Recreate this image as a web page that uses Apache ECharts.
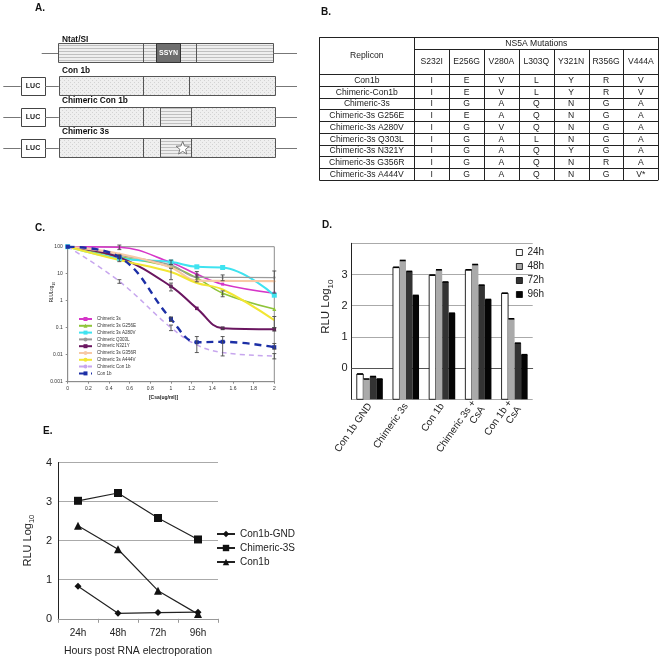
<!DOCTYPE html>
<html><head><meta charset="utf-8">
<script src="https://cdn.jsdelivr.net/npm/echarts@6/dist/echarts.min.js"></script>
<style>html,body{margin:0;padding:0;background:#fff}#chart{width:662px;height:659px}</style>
</head><body><div id="chart"></div>
<script>
// ---------------- Panel B: table data ----------------
const mutationHeaders = ['S232I','E256G','V280A','L303Q','Y321N','R356G','V444A'];
const replicons = ['Con1b','Chimeric-Con1b','Chimeric-3s','Chimeric-3s G256E','Chimeric-3s A280V','Chimeric-3s Q303L','Chimeric-3s N321Y','Chimeric-3s G356R','Chimeric-3s A444V'];
const residues = [
  ['I','E','V','L','Y','R','V'],
  ['I','E','V','L','Y','R','V'],
  ['I','G','A','Q','N','G','A'],
  ['I','E','A','Q','N','G','A'],
  ['I','G','V','Q','N','G','A'],
  ['I','G','A','L','N','G','A'],
  ['I','G','A','Q','Y','G','A'],
  ['I','G','A','Q','N','R','A'],
  ['I','G','A','Q','N','G','V*']
];
// ---------------- Panel C: CsA dose response ----------------
const csaDose = [0, 0.5, 1, 1.25, 1.5, 2];
const chimeric3s      = [100, 95, 26, 9.5, 4.1, 1.9];
const chimeric3sG256E = [100, 42, 18, 7, 1.9, 0.49];
const chimeric3sA280V = [100, 37, 27, 18, 17, 1.6];
const chimericQ303L   = [100, 48, 21, 7.4, 7.3, 7.2];
const chimericN321Y   = [100, 40, 3.4, 0.52, 0.095, 0.087];
const chimeric3sG356R = [100, 55, 17, 5.5, 5.4, 5.3];
const chimeric3sA444V = [100, 32, 11.5, 4.5, 2.6, 0.19];
const chimericCon1b   = [100, 5.2, 0.1, 0.023, 0.012, 0.0089];
const con1bCsA        = [100, 42, 0.21, 0.029, 0.03, 0.019];
// error bars: [dose, low, high]
const errorBarsC = [
  [0.5, 78, 115], [0.5, 28, 50], [0.5, 4.4, 6.0],
  [1, 22, 32], [1, 6, 16], [1, 2.3, 4.5], [1, 0.17, 0.25], [1, 0.078, 0.125],
  [1.25, 7.5, 12], [1.25, 5, 9], [1.25, 0.012, 0.047],
  [1.5, 5.5, 9], [1.5, 1.4, 2.3], [1.5, 0.009, 0.047], [1.5, 0.085, 0.105],
  [2, 1.9, 12.6], [2, 0.1, 0.26], [2, 0.075, 0.1], [2, 0.016, 0.026], [2, 0.007, 0.011]
];
const seriesNamesC = ['Chimeric 3s','Chimeric 3s G256E','Chimeric 3s A280V','Chimeric Q303L','Chimeric N321Y','Chimeric 3s G356R','Chimeric 3s A444V','Chimeric Con 1b','Con 1b'];
// ---------------- Panel D: bar chart ----------------
const categoriesD = ['Con 1b GND','Chimeric 3s','Con 1b','Chimeric 3s +\nCsA','Con 1b +\nCsA'];
const timesD = ['24h','48h','72h','96h'];
const rlu24h = [-0.19, 3.23, 2.98, 3.15, 2.40];
const rlu48h = [-0.35, 3.45, 3.15, 3.32, 1.58];
const rlu72h = [-0.27, 3.10, 2.76, 2.66, 0.80];
const rlu96h = [-0.35, 2.33, 1.76, 2.20, 0.43];
// ---------------- Panel E: time course ----------------
const hoursE = ['24h','48h','72h','96h'];
const con1bGND_E   = [0.83, 0.14, 0.16, 0.17];
const chimeric3S_E = [3.02, 3.22, 2.58, 2.03];
const con1b_E      = [2.38, 1.78, 0.72, 0.12];

// ---------------- styling ----------------
const FONT = '"Liberation Sans", Arial, sans-serif';
const colorsC = ['#d636c8','#8fc43a','#3fe3f0','#9a9a9a','#6a1660','#f7c9a6','#f2e633','#c7a6ee','#1c2fa6'];
const symbolsC = ['rect','triangle','rect','circle','rect','circle','none','none','rect'];
const symSizeC = [3,4,5,2.5,3.5,2.5,0,0,4];
const widthC = [1.6,1.6,2,1.3,2,2.2,2,1.5,2.4];
const dashC = [null,null,null,null,null,null,null,[5,4],[7,5]];
const colorsD = ['#ffffff','#aaaaaa','#333333','#050505'];

function makePattern(kind){
  const c = document.createElement('canvas');
  if (kind === 'stripe') {
    c.width = 4; c.height = 3;
    const x = c.getContext('2d');
    x.fillStyle = '#eeeeee'; x.fillRect(0,0,4,3);
    x.fillStyle = '#bfbfbf'; x.fillRect(0,0,4,1);
  } else {
    c.width = 4; c.height = 4;
    const x = c.getContext('2d');
    x.fillStyle = '#efefef'; x.fillRect(0,0,4,4);
    x.fillStyle = '#d3d3d3'; x.fillRect(0,0,1,1); x.fillRect(2,2,1,1);
  }
  return {image: c, repeat: 'repeat'};
}
const STRIPE = makePattern('stripe');
const DOTS = makePattern('dots');

const G = [];
const crisp = v => Math.round(v) + 0.5;
function line(x1,y1,x2,y2,stroke,w){
  w = w || 1; stroke = stroke || '#555';
  if (x1 === x2) { x1 = x2 = crisp(x1); }
  if (y1 === y2) { y1 = y2 = crisp(y1); }
  G.push({type:'line', silent:true, shape:{x1,y1,x2,y2}, style:{stroke, lineWidth:w}});
}
function rect(x,y,w,h,fill,stroke,lw){
  G.push({type:'rect', silent:true, shape:{x:crisp(x),y:crisp(y),width:Math.round(w),height:Math.round(h)}, style:{fill, stroke: stroke || '#555', lineWidth: lw || 1}});
}
function text(x,y,s,font,fill,align,rot){
  align = align || 'center';
  G.push({type:'text', silent:true, x, y, rotation: rot || 0,
    style:{text:s, font, fill: fill || '#111', align, verticalAlign:'middle', textAlign:align, textVerticalAlign:'middle'}});
}
function richText(x,y,main,sub,size,subSize,rot,bold){
  G.push({type:'text', silent:true, x, y, rotation: rot || 0,
    style:{text:'{a|' + main + '}{b|' + sub + '}', align:'center', verticalAlign:'middle', textAlign:'center', textVerticalAlign:'middle',
      rich:{a:{fontSize:size, fontFamily:FONT, fontWeight: bold ? 'bold':'normal', fill:'#222', padding:[0,0,Math.round(size*0.25),0], verticalAlign:'bottom'},
            b:{fontSize:subSize, fontFamily:FONT, fill:'#222', verticalAlign:'bottom'}}}});
}
function star(cx,cy,R,r){
  const pts = [];
  for (let i = 0; i < 10; i++) {
    const ang = -Math.PI/2 + i*Math.PI/5;
    const rad = i % 2 === 0 ? R : r;
    pts.push([cx + rad*Math.cos(ang), cy + rad*Math.sin(ang)]);
  }
  G.push({type:'polygon', silent:true, shape:{points:pts}, style:{fill:'#fff', stroke:'#777', lineWidth:1}});
}

// ---- panel letters
text(40, 8.5, 'A.', 'bold 10px ' + FONT);
text(326, 12.7, 'B.', 'bold 10px ' + FONT);
text(40, 228, 'C.', 'bold 10px ' + FONT);
text(327, 225.7, 'D.', 'bold 10px ' + FONT);
text(47.7, 431.3, 'E.', 'bold 10px ' + FONT);

// ---- Panel A schematic
const aFont = 'bold 8.3px ' + FONT;
line(41.7, 52.7, 58.3, 52.7, '#777');
rect(58.3, 43.3, 215, 19, STRIPE, '#555');
line(142.7, 43.3, 142.7, 62.3, '#555');
line(195.7, 43.3, 195.7, 62.3, '#555');
rect(156, 43.3, 24, 19, '#6e6e6e', '#333');
text(168.5, 53.3, 'SSYN', 'bold 7px ' + FONT, '#fff');
line(273.3, 52.7, 297, 52.7, '#777');
text(62, 39.3, 'Ntat/SI', aFont, '#111', 'left');
const rowsA = [
  {y0:76.3, label:'Con 1b', ly:70.7, div:[142.7,189.3], stripe:false, star:false},
  {y0:107.3, label:'Chimeric Con 1b', ly:101.2, div:[143.3], stripe:true, star:false},
  {y0:138.3, label:'Chimeric 3s', ly:131.3, div:[142.7], stripe:true, star:true}
];
rowsA.forEach(r => {
  const mid = r.y0 + 9.6;
  line(3.3, mid, 20.7, mid, '#777');
  rect(20.7, r.y0 + 0.5, 24, 18, '#fff', '#444');
  text(33, mid + 0.5, 'LUC', 'bold 7px ' + FONT, '#222');
  line(45, mid, 58.8, mid, '#777');
  rect(58.8, r.y0, 216, 19, DOTS, '#555');
  if (r.stripe) rect(160, r.y0, 31, 19, STRIPE, '#555');
  r.div.forEach(d => line(d, r.y0, d, r.y0 + 19, '#555'));
  line(275, mid, 297, mid, '#777');
  text(62, r.ly, r.label, aFont, '#111', 'left');
  if (r.star) star(182.7, mid + 0.5, 7, 3);
});

// ---- Panel B table
const tL = 319.3, tR = 658.3, tT = 37.3, hdr1 = 49.3, hdr2 = 74, rowH = 11.78, c1 = 414.3;
const colW = (tR - c1) / mutationHeaders.length;
const tB = hdr2 + rowH * replicons.length;
line(tL, tT, tR, tT, '#222'); line(tL, tB, tR, tB, '#222');
line(tL, tT, tL, tB, '#222'); line(tR, tT, tR, tB, '#222');
line(c1, tT, c1, tB, '#222');
line(c1, hdr1, tR, hdr1, '#222');
for (let i = 1; i < mutationHeaders.length; i++) line(c1 + i*colW, hdr1, c1 + i*colW, tB, '#222');
for (let r = 0; r < replicons.length; r++) line(tL, hdr2 + r*rowH, tR, hdr2 + r*rowH, '#222');
const tfont = '8.6px ' + FONT;
text((c1 + tR)/2, (tT + hdr1)/2 + 0.5, 'NS5A Mutations', tfont, '#222');
text((tL + c1)/2, (tT + hdr2)/2, 'Replicon', tfont, '#222');
mutationHeaders.forEach((h, i) => text(c1 + (i + 0.5)*colW, (hdr1 + hdr2)/2, h, tfont, '#222'));
replicons.forEach((name, r) => {
  const cy = hdr2 + (r + 0.5)*rowH + 0.5;
  text((tL + c1)/2, cy, name, tfont, '#222');
  residues[r].forEach((v, i) => text(c1 + (i + 0.5)*colW, cy, v, tfont, '#222'));
});

// ---- axis titles drawn as text
richText(52.7, 292, 'RLULog', '10', 4.5, 3.5, Math.PI/2);
text(163.5, 397.5, '[Csa(ug/ml)]', 'bold 5px ' + FONT, '#222');
richText(327, 306.7, 'RLU Log', '10', 11.5, 8, Math.PI/2);

// ---------------- series ----------------
const seriesC = [chimeric3s, chimeric3sG256E, chimeric3sA280V, chimericQ303L, chimericN321Y, chimeric3sG356R, chimeric3sA444V, chimericCon1b, con1bCsA];
const series = [];
seriesC.forEach((arr, k) => {
  series.push({
    name: seriesNamesC[k], type:'line', xAxisIndex:0, yAxisIndex:0,
    data: csaDose.map((x, i) => [x, arr[i]]),
    smooth: 0.4, symbol: symbolsC[k], symbolSize: symSizeC[k], showSymbol: symbolsC[k] !== 'none',
    itemStyle:{color: colorsC[k]},
    lineStyle:{color: colorsC[k], width: widthC[k], type: dashC[k] || 'solid'},
    z: k === 8 ? 5 : 3
  });
});
series.push({
  name:'errC', type:'custom', xAxisIndex:0, yAxisIndex:0, data: errorBarsC, encode:{x:0, y:[1,2]}, z:6,
  renderItem: (params, api) => {
    const a = api.coord([api.value(0), api.value(1)]);
    const b = api.coord([api.value(0), api.value(2)]);
    const st = {stroke:'#4a4a4a', lineWidth:0.9};
    return {type:'group', children:[
      {type:'line', shape:{x1:a[0], y1:a[1], x2:b[0], y2:b[1]}, style:st},
      {type:'line', shape:{x1:a[0]-2, y1:a[1], x2:a[0]+2, y2:a[1]}, style:st},
      {type:'line', shape:{x1:b[0]-2, y1:b[1], x2:b[0]+2, y2:b[1]}, style:st}
    ]};
  }
});
const valuesD = [rlu24h, rlu48h, rlu72h, rlu96h];
const yMinD = -1;
valuesD.forEach((arr, k) => {
  series.push({
    name: timesD[k], type:'custom', xAxisIndex:1, yAxisIndex:1,
    data: arr.map((v, i) => [i, v]), encode:{x:0, y:1},
    itemStyle:{color: colorsD[k], borderColor:'#000', borderWidth:0.8},
    renderItem: (params, api) => {
      const top = api.coord([api.value(0), api.value(1)]);
      const base = api.coord([api.value(0), yMinD]);
      const band = api.size([1, 0])[0];
      const w = band * 0.18;
      const x0 = top[0] - 2*w + k*w;
      return {type:'group', children:[
        {type:'rect', shape:{x:x0, y:top[1], width:w, height:base[1]-top[1]},
          style:{fill: colorsD[k], stroke: k === 0 ? '#111' : colorsD[k], lineWidth: k === 0 ? 0.9 : 0}},
        {type:'line', shape:{x1:x0 + 0.3, y1:top[1], x2:x0 + w - 0.3, y2:top[1]}, style:{stroke:'#000', lineWidth:1.6}}
      ]};
    }
  });
});
const valuesE = [con1bGND_E, chimeric3S_E, con1b_E];
const namesE = ['Con1b-GND','Chimeric-3S','Con1b'];
const symE = ['diamond','rect','triangle'];
const symSizeE = [7, 8, 8];
valuesE.forEach((arr, k) => {
  series.push({
    name: namesE[k], type:'line', xAxisIndex:2, yAxisIndex:2, data: arr,
    symbol: symE[k], symbolSize: symSizeE[k],
    itemStyle:{color:'#111'}, lineStyle:{color:'#222', width:1.2}
  });
});

const chart = echarts.init(document.getElementById('chart'), null, {renderer:'canvas'});
chart.setOption({
  animation:false,
  backgroundColor:'#fff',
  textStyle:{fontFamily: FONT},
  graphic:{elements: G},
  grid:[
    {left:67.7, top:246.7, width:206.6, height:135, show:true, borderColor:'#8c8c8c', borderWidth:1, backgroundColor:'rgba(0,0,0,0)'},
    {left:351.7, top:243.3, width:181, height:156},
    {left:58, top:462.5, width:160, height:156.3}
  ],
  xAxis:[
    {gridIndex:0, type:'value', min:0, max:2, interval:0.2,
      axisLine:{show:true, lineStyle:{color:'#8c8c8c'}}, axisTick:{show:true, length:2, lineStyle:{color:'#8c8c8c'}},
      axisLabel:{fontSize:5, color:'#333', margin:4, formatter: v => String(+(+v).toFixed(1))}, splitLine:{show:false}},
    {gridIndex:1, type:'category', data: categoriesD,
      axisLine:{show:true, lineStyle:{color:'#555'}}, axisTick:{show:false},
      axisLabel:{interval:0, rotate:55, fontSize:10, color:'#222', margin:5, lineHeight:11}},
    {gridIndex:2, type:'category', data: hoursE, boundaryGap:true,
      axisLine:{show:true, lineStyle:{color:'#999'}}, axisTick:{show:true, length:4, lineStyle:{color:'#999'}},
      axisLabel:{fontSize:10, color:'#222', margin:9},
      name:'Hours post RNA electroporation', nameLocation:'middle', nameGap:27, nameTextStyle:{fontSize:10.5, color:'#222'}}
  ],
  yAxis:[
    {gridIndex:0, type:'log', logBase:10, min:0.001, max:100,
      axisLine:{show:true, lineStyle:{color:'#8c8c8c'}}, axisTick:{show:true, length:2, lineStyle:{color:'#8c8c8c'}},
      axisLabel:{fontSize:5, color:'#333', margin:5, formatter: v => v >= 1 ? String(Math.round(v)) : String(+(+v).toPrecision(1))},
      splitLine:{show:false}},
    {gridIndex:1, type:'value', min:-1, max:4, interval:1,
      axisLine:{show:true, lineStyle:{color:'#222'}}, axisTick:{show:false},
      splitLine:{show:true, lineStyle:{color:'#aaa'}},
      axisLabel:{fontSize:11, color:'#222', margin:4, formatter: v => (v < 0 || v >= 4) ? '' : String(v)}},
    {gridIndex:2, type:'value', min:0, max:4, interval:1,
      axisLine:{show:true, lineStyle:{color:'#222'}}, axisTick:{show:false},
      splitLine:{show:true, lineStyle:{color:'#aaa'}},
      axisLabel:{fontSize:11, color:'#222', margin:6},
      name:'{a|RLU Log}{b|10}', nameLocation:'middle', nameGap:22, nameRotate:90,
      nameTextStyle:{rich:{a:{fontSize:11, color:'#222', padding:[0,0,3,0], verticalAlign:'bottom'}, b:{fontSize:7.5, color:'#222', verticalAlign:'bottom'}}}}
  ],
  legend:[
    {left:78, top:316.5, padding:0, orient:'vertical', selectedMode:false, itemWidth:13, itemHeight:5, itemGap:1.8,
      textStyle:{fontSize:4.5, color:'#333', lineHeight:5}, data: seriesNamesC},
    {left:516, top:247.5, padding:0, orient:'vertical', selectedMode:false, itemWidth:6, itemHeight:6, itemGap:4,
      textStyle:{fontSize:10, color:'#222'},
      data: timesD.map((t, k) => ({name:t, icon:'rect', itemStyle:{color: colorsD[k], borderColor:'#000', borderWidth:0.8}}))},
    {left:216, top:529, padding:0, orient:'vertical', selectedMode:false, itemWidth:18, itemHeight:8, itemGap:4,
      textStyle:{fontSize:10, color:'#222'}, data: namesE}
  ],
  series
});
</script>
</body></html>
